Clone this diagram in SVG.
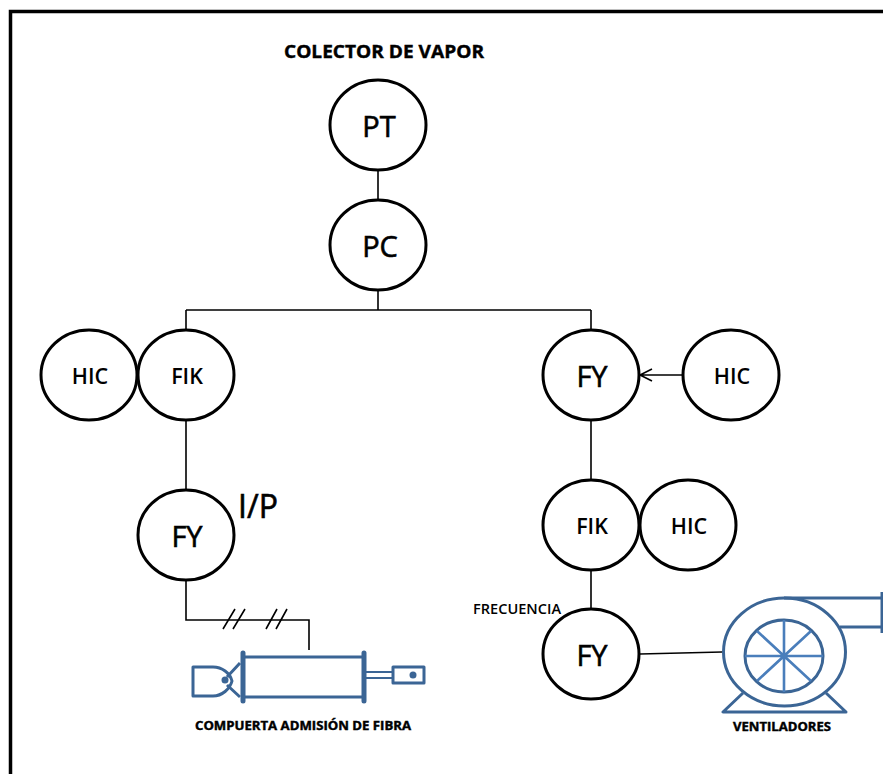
<svg xmlns="http://www.w3.org/2000/svg" width="883" height="774" viewBox="0 0 883 774">
<style>
.n{fill:#fff;stroke:#000;stroke-width:3}
.l{fill:none;stroke:#000;stroke-width:1.6}
.t{font-family:"Open Sans","Noto Sans","DejaVu Sans",sans-serif;text-anchor:middle;fill:#000}
.b{font-size:29px;stroke:#000;stroke-width:.6}
.s{font-size:21.500px;font-weight:600}
.c{font-family:"Open Sans","Noto Sans",sans-serif;font-weight:700;fill:#000;stroke:#000;stroke-width:.4}
.d{fill:none;stroke:#3b6595;stroke-width:3;stroke-linejoin:round}
.f{fill:none;stroke:#3b6595;stroke-width:5;stroke-linecap:round}
.r{fill:none;stroke:#3b6595;stroke-width:2.200}
.e{fill:none;stroke:#4a7ebb;stroke-width:2.600}
</style>
<path d="M10.500 774V11.500H883" fill="none" stroke="#000" stroke-width="3.500"/>
<g id="connectors">
<path class="l" d="M378 170V201M378 291V310M186 310H591M186 310V331M591 310V331"/>
<path class="l" d="M683 375H640M652 369L640 375L652 381"/>
<path class="l" d="M186 420V491M591 420V481M591 570V609M186 580V620H309V650"/>
<path class="l" d="M223 629L235 609M233 629L245 609M266 629L277 609M276 629L287 609"/>
<path class="l" d="M640 654L722 652"/>
</g>
<text class="c" x="284" y="58" font-size="18" textLength="200" lengthAdjust="spacingAndGlyphs">COLECTOR DE VAPOR</text>
<g id="pt"><ellipse class="n" cx="378" cy="125" rx="48" ry="45"/><text class="t b" x="379" y="137">PT</text></g>
<g id="pc"><ellipse class="n" cx="378" cy="245" rx="48" ry="45"/><text class="t b" x="380" y="257">PC</text></g>
<g id="hic1"><ellipse class="n" cx="89" cy="375" rx="48" ry="45"/><text class="t s" x="90" y="384">HIC</text></g>
<g id="fik1"><ellipse class="n" cx="186" cy="375" rx="48" ry="45"/><text class="t s" x="187" y="384">FIK</text></g>
<g id="fy1"><ellipse class="n" cx="591" cy="375" rx="48" ry="45"/><text class="t b" x="592" y="387">FY</text></g>
<g id="hic2"><ellipse class="n" cx="731" cy="375" rx="48" ry="45"/><text class="t s" x="732" y="384">HIC</text></g>
<g id="fy2"><ellipse class="n" cx="186" cy="535" rx="48" ry="45"/><text class="t b" x="187" y="547">FY</text></g>
<text class="t" x="258" y="518" font-size="32" stroke="#000" stroke-width=".6">I/P</text>
<g id="fik2"><ellipse class="n" cx="591" cy="525" rx="48" ry="45"/><text class="t s" x="592" y="534">FIK</text></g>
<g id="hic3"><ellipse class="n" cx="688" cy="525" rx="48" ry="45"/><text class="t s" x="689" y="534">HIC</text></g>
<g id="fy3"><ellipse class="n" cx="591" cy="654" rx="48" ry="45"/><text class="t b" x="592" y="666">FY</text></g>
<text class="t" x="473" y="614" font-size="13.500" font-weight="600" style="text-anchor:start" textLength="88" lengthAdjust="spacingAndGlyphs">FRECUENCIA</text>
<g id="actuator">
<path class="d" d="M243 657H364M243 697H364"/>
<path class="f" d="M243 653V701M364 653V701"/>
<path class="d" d="M193 667V696H213C222 696 230 689 232 681C230 673 222 667 213 667Z"/>
<path class="d" d="M240 663L227 677M227 685L240 697"/>
<circle cx="225" cy="680" r="3.500" fill="#3b6595"/>
<path class="r" d="M366 672H393M366 678H393"/>
<rect class="d" x="393" y="667" width="31" height="16"/>
<circle cx="413" cy="675" r="3.500" fill="#3b6595"/>
</g>
<text class="c" x="195" y="730" font-size="11.500" textLength="216" lengthAdjust="spacingAndGlyphs">COMPUERTA ADMISIÓN DE FIBRA</text>
<g id="fan">
<path class="d" d="M784 598H882M840 627H882"/>
<path class="d" d="M882 592V633"/>
<ellipse class="d" cx="784.500" cy="652" rx="61" ry="54"/>
<ellipse class="d" cx="784" cy="656" rx="39" ry="36"/>
<path class="e" d="M784 620V692M745 656H823M757 631L811 681M811 631L757 681"/>
<path class="d" d="M743 693L723 712H846L826 693"/>
</g>
<text class="c" x="733" y="731" font-size="11.500" textLength="98" lengthAdjust="spacingAndGlyphs">VENTILADORES</text>
</svg>
